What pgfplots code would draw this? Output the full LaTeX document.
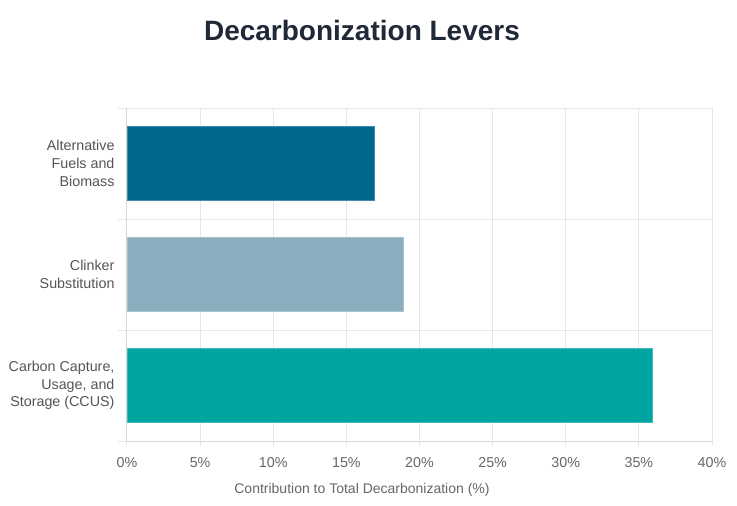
\documentclass[border=0pt]{standalone}
\usepackage{fontspec}
\setmainfont{Liberation Sans}
\usepackage{pgfplots}
\pgfplotsset{compat=1.18}
\definecolor{barA}{HTML}{00678F}
\definecolor{barB}{HTML}{8BAEBE}
\definecolor{barC}{HTML}{00A5A2}
\definecolor{gridc}{HTML}{E6E6E6}
\definecolor{axisc}{HTML}{D6D6D6}
\definecolor{tickc}{HTML}{666666}
\definecolor{catc}{HTML}{555555}
\definecolor{titlec}{HTML}{1F2937}
\begin{document}
\begin{tikzpicture}[x=1pt,y=1pt]
\path (0,0) rectangle (737,506);
\node[font=\fontsize{28}{32}\selectfont\bfseries,text=titlec] at (362,476) {Decarbonization Levers};
\begin{axis}[
    at={(127pt,65pt)}, anchor=south west,
    width=585pt, height=333pt, scale only axis,
    xbar, bar width=0.67,
    xmin=0, xmax=40, ymin=-0.5, ymax=2.5, y dir=reverse,
    ytick={0,1,2},
    yticklabels={{Alternative\\Fuels and\\Biomass},{Clinker\\Substitution},{Carbon Capture,\\Usage, and\\Storage (CCUS)}},
    minor ytick={-0.5,0.5,1.5,2.5},
    xtick={0,5,...,40},
    xticklabel={\pgfmathprintnumber{\tick}\%},
    /pgf/number format/assume math mode=true,
    axis x line*=bottom, axis y line*=left,
    axis line style={draw=axisc, line width=1pt},
    xmajorgrids, yminorgrids,
    major grid style={draw=gridc, line width=1pt},
    minor grid style={draw=gridc, line width=1pt},
    tick align=outside,
    major tick length=5pt, minor tick length=9pt,
    major x tick style={draw=gridc, line width=1pt},
    major y tick style={draw=none},
    minor y tick style={draw=gridc, line width=1pt},
    tick label style={font=\fontsize{14.3}{17.7}\selectfont},
    xticklabel style={text=tickc, yshift=-8pt},
    yticklabel style={text=catc, align=right, xshift=-4pt},
    xlabel={Contribution to Total Decarbonization (\%)},
    xlabel style={at={(axis description cs:0.4017,-0.147)}, anchor=center,
        font=\fontsize{14}{17}\selectfont, text=tickc},
]
\addplot[bar shift=0pt, fill=barA, draw=barA!75!white] coordinates {(16.9,0)};
\addplot[bar shift=0pt, fill=barB, draw=barB!75!white] coordinates {(18.9,1)};
\addplot[bar shift=0pt, fill=barC, draw=barC!75!white] coordinates {(35.9,2)};
\end{axis}
\end{tikzpicture}
\end{document}
